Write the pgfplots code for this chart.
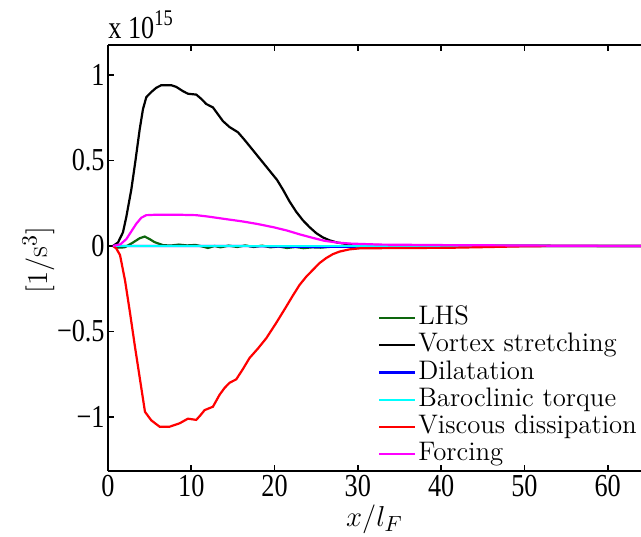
\documentclass[border=0pt]{standalone}
\usepackage{pgfplots}
\pgfplotsset{compat=1.18}
\usepackage{fontspec}
\newfontfamily\timesfont[FakeStretch=0.82]{Liberation Serif}
\definecolor{mgreen}{rgb}{0.05,0.4,0.05}
\definecolor{mcyan}{rgb}{0,1,1}
\definecolor{mmagenta}{rgb}{1,0,1}
\definecolor{mblue}{rgb}{0,0,1}
\definecolor{mred}{rgb}{1,0,0}
\begin{document}
\begin{tikzpicture}
\begin{axis}[
 name=ax, scale only axis, width=266.5pt, height=213pt,
 xmin=0, xmax=64, ymin=-1.316, ymax=1.175,
 axis x line=box, axis y line=left,
 axis line style={-, line width=1.2pt},
 tick align=inside, major tick length=3pt, tick style={line width=0.9pt, black},
 xtick={0,10,20,30,40,50,60}, xticklabels={0,10,20,30,40,50,60},
 ytick={-1,-0.5,0,0.5,1}, yticklabels={−1,−0.5,0,0.5,1},
 xticklabel style={font=\timesfont\fontsize{16}{18}\selectfont, inner sep=2pt},
 yticklabel style={font=\timesfont\fontsize{16}{18}\selectfont, inner sep=1.5pt},
 xlabel={$x/l_F$}, ylabel={$[1/\mathrm{s}^3]$},
 every axis x label/.style={at={(rel axis cs:0.5,0)}, anchor=base, yshift=-27.5pt, font=\fontsize{15.5}{17}\selectfont},
 every axis y label/.style={at={(rel axis cs:-0.1144,0.495)}, rotate=90, anchor=base, font=\fontsize{15}{17}\selectfont},
 legend cell align=left,
 legend style={draw=none, fill=none, at={(rel axis cs:0.506,0.392)}, anchor=north west, inner sep=0pt,
   font=\fontsize{13.4}{15}\selectfont, nodes={inner sep=1pt, text height=9.1pt, text depth=2.5pt}},
 legend image code/.code={\draw[#1] (0pt,0pt) -- (18pt,0pt);},
 every axis plot/.append style={line width=1.1pt},
 clip=true,
]
\addplot[mgreen] coordinates {(0.6,0) (1.2,-0.01) (2,-0.008) (3,0.02) (3.8,0.045) (4.4,0.055) (5,0.04) (5.6,0.022) (6.6,0.005) (7.5,0.002) (8.5,0.008) (9.5,0.003) (10.5,0.006) (11.5,-0.005) (12,-0.012) (12.8,0) (13.5,-0.008) (14.5,0.002) (15.5,-0.006) (16.5,0.003) (17.5,-0.006) (18.5,0.002) (19.5,-0.008) (20.5,-0.003) (21.5,-0.012) (22.5,-0.006) (23.5,-0.013) (24.5,-0.008) (25.5,-0.01) (27,-0.004) (29,-0.002) (32,0) (64,0)};
\addlegendentry{LHS}
\addplot[black] coordinates {(0.6,0) (1.2,0.02) (1.8,0.08) (2.2,0.17) (2.8,0.33) (3.3,0.5) (3.8,0.68) (4.2,0.80) (4.6,0.87) (5.2,0.90) (5.8,0.925) (6.4,0.94) (7.6,0.94) (8.2,0.93) (9.0,0.905) (9.6,0.89) (10.6,0.885) (11.2,0.86) (11.8,0.83) (12.6,0.81) (13.2,0.77) (13.8,0.73) (14.6,0.695) (15.6,0.665) (16.4,0.62) (17.4,0.56) (18.4,0.50) (19.4,0.44) (20.3,0.386) (21.0,0.33) (21.8,0.26) (22.6,0.20) (23.4,0.15) (24.2,0.11) (25.0,0.075) (25.8,0.05) (26.6,0.033) (27.5,0.02) (28.6,0.012) (30,0.007) (35,0.003) (45,0.001) (64,0)};
\addlegendentry{Vortex stretching}
\addplot[mblue] coordinates {(0.6,0) (15,0) (20,-0.003) (25,-0.006) (30,-0.004) (40,0) (64,0)};
\addlegendentry{Dilatation}
\addplot[mcyan] coordinates {(0.6,0) (64,0)};
\addlegendentry{Baroclinic torque}
\addplot[mred] coordinates {(0.6,0) (1.0,-0.015) (1.44,-0.053) (2.04,-0.2) (2.64,-0.39) (3.24,-0.59) (3.84,-0.78) (4.44,-0.97) (5.2,-1.02) (6.2,-1.057) (7.4,-1.057) (8.6,-1.037) (9.6,-1.01) (10.6,-1.017) (11.1,-0.99) (11.6,-0.96) (12.6,-0.94) (13.4,-0.87) (14.0,-0.83) (14.6,-0.80) (15.4,-0.78) (16.2,-0.72) (17.0,-0.655) (18.0,-0.6) (19.0,-0.54) (20.2,-0.45) (21.4,-0.355) (22.2,-0.29) (23.0,-0.228) (23.8,-0.18) (24.6,-0.14) (25.4,-0.10) (26.2,-0.071) (27.0,-0.048) (27.8,-0.033) (29,-0.02) (30.2,-0.014) (35,-0.012) (40.6,-0.011) (45,-0.007) (50,-0.002) (55,0) (64,0)};
\addlegendentry{Viscous dissipation}
\addplot[mmagenta] coordinates {(0.6,0) (1.5,0.01) (2.2,0.04) (2.8,0.085) (3.4,0.13) (4.0,0.165) (4.6,0.18) (6,0.183) (8,0.183) (10.6,0.18) (12,0.172) (14,0.158) (16.2,0.143) (18,0.128) (20,0.108) (21.5,0.09) (23,0.068) (24.6,0.047) (26,0.03) (27.5,0.02) (29,0.014) (32.6,0.008) (40,0.005) (48.6,0.003) (55,0.001) (64,0)};
\addlegendentry{Forcing}
\end{axis}
\node[anchor=base west, inner sep=0pt, font=\timesfont\fontsize{16}{18}\selectfont] at ([yshift=3.5pt]ax.north west) {x 10\textsuperscript{15}};
\pgfresetboundingbox
\path[use as bounding box] ([shift={(-54pt,-32.5pt)}]ax.south west) rectangle ([shift={(0pt,22.5pt)}]ax.north east);
\end{tikzpicture}
\end{document}
